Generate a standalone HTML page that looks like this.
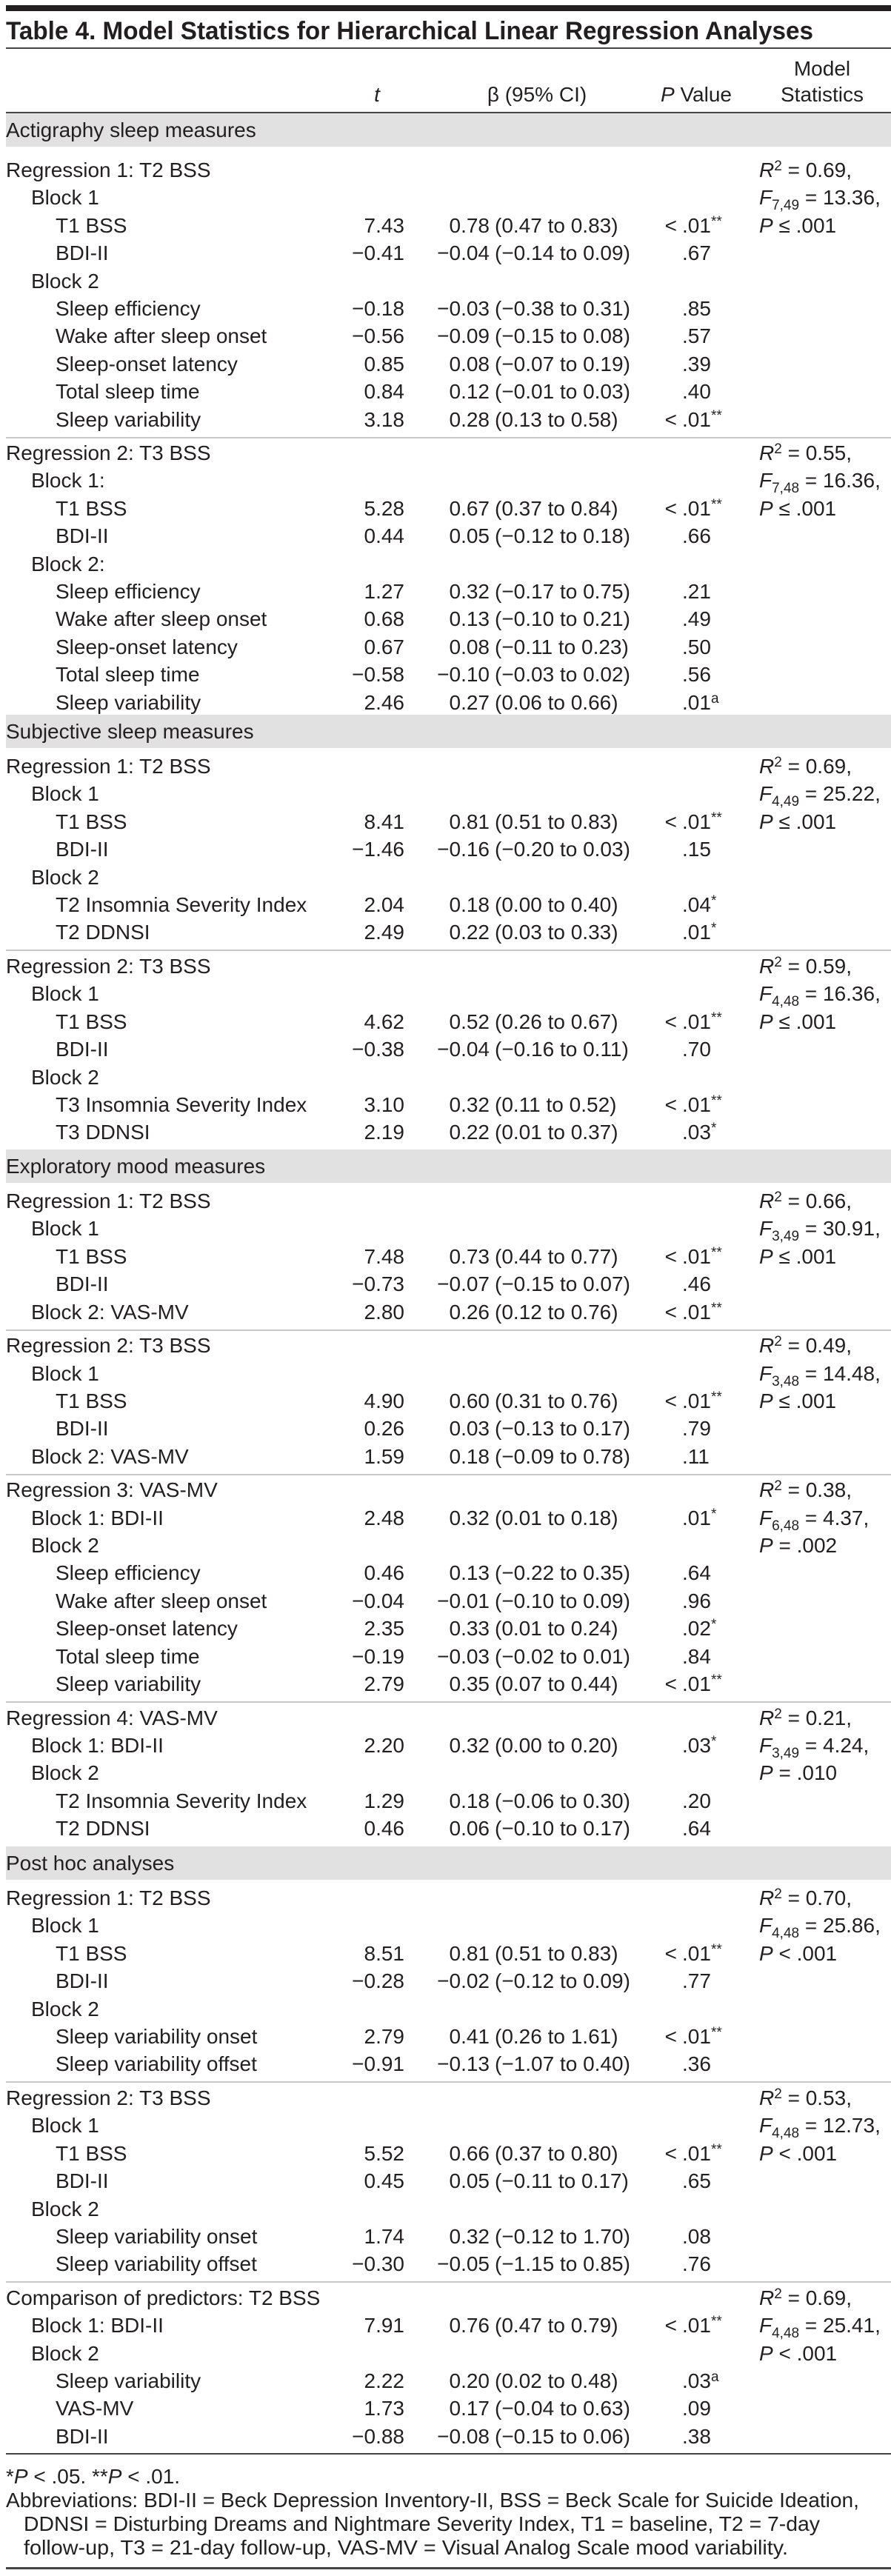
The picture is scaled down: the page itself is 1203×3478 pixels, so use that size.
<!DOCTYPE html>
<html><head><meta charset="utf-8">
<style>
html,body{margin:0;padding:0;background:#fff;}
svg{display:block;font-family:"Liberation Sans",Arial,sans-serif;}
</style></head>
<body>
<svg id="tbl" width="1203" height="3478" viewBox="0 0 1203 3478" xmlns="http://www.w3.org/2000/svg">
<rect x="8" y="7" width="1195" height="8" fill="#231f20"/>
<text x="8" y="53" font-size="34" font-weight="bold" fill="#231f20" textLength="1090" lengthAdjust="spacingAndGlyphs">Table 4. Model Statistics for Hierarchical Linear Regression Analyses</text>
<rect x="8" y="64" width="1195" height="2" fill="#444"/>
<text x="509" y="137" font-size="28" font-style="italic" text-anchor="middle" fill="#231f20">t</text>
<text x="725" y="137" font-size="28" text-anchor="middle" fill="#231f20">β (95% CI)</text>
<text x="940" y="137" font-size="28" text-anchor="middle" fill="#231f20"><tspan font-style="italic">P</tspan> Value</text>
<text x="1110" y="102" font-size="28" text-anchor="middle" fill="#231f20">Model</text>
<text x="1110" y="137" font-size="28" text-anchor="middle" fill="#231f20">Statistics</text>
<g id="body"></g>
</svg>
<script>
const NS = "http://www.w3.org/2000/svg";
const sectionNames = ["Actigraphy sleep measures","Subjective sleep measures","Exploratory mood measures","Post hoc analyses"];
const sectionStarts = [229, 1034, 1621, 2562];
const sectionGroups = [[0,1],[2,3],[4,5,6,7],[8,9,10]];
const groupTitles = ["Regression 1: T2 BSS","Regression 2: T3 BSS","Regression 1: T2 BSS","Regression 2: T3 BSS","Regression 1: T2 BSS","Regression 2: T3 BSS","Regression 3: VAS-MV","Regression 4: VAS-MV","Regression 1: T2 BSS","Regression 2: T3 BSS","Comparison of predictors: T2 BSS"];
const modelR2 = ["0.69","0.55","0.69","0.59","0.66","0.49","0.38","0.21","0.70","0.53","0.69"];
const modelDf = ["7,49","7,48","4,49","4,48","3,49","3,48","6,48","3,49","4,48","4,48","4,48"];
const modelF = ["13.36","16.36","25.22","16.36","30.91","14.48","4.37","4.24","25.86","12.73","25.41"];
const modelPop = ["≤","≤","≤","≤","≤","≤","=","=","<","<","<"];
const modelP = [".001",".001",".001",".001",".001",".001",".002",".010",".001",".001",".001"];
// rows: [label, indent, t, beta, ci, pOp, p, sup]
const groupRows = [
 [["Block 1",1],["T1 BSS",2,"7.43","0.78","(0.47 to 0.83)","<",".01","**"],["BDI-II",2,"−0.41","−0.04","(−0.14 to 0.09)","",".67",""],["Block 2",1],["Sleep efficiency",2,"−0.18","−0.03","(−0.38 to 0.31)","",".85",""],["Wake after sleep onset",2,"−0.56","−0.09","(−0.15 to 0.08)","",".57",""],["Sleep-onset latency",2,"0.85","0.08","(−0.07 to 0.19)","",".39",""],["Total sleep time",2,"0.84","0.12","(−0.01 to 0.03)","",".40",""],["Sleep variability",2,"3.18","0.28","(0.13 to 0.58)","<",".01","**"]],
 [["Block 1:",1],["T1 BSS",2,"5.28","0.67","(0.37 to 0.84)","<",".01","**"],["BDI-II",2,"0.44","0.05","(−0.12 to 0.18)","",".66",""],["Block 2:",1],["Sleep efficiency",2,"1.27","0.32","(−0.17 to 0.75)","",".21",""],["Wake after sleep onset",2,"0.68","0.13","(−0.10 to 0.21)","",".49",""],["Sleep-onset latency",2,"0.67","0.08","(−0.11 to 0.23)","",".50",""],["Total sleep time",2,"−0.58","−0.10","(−0.03 to 0.02)","",".56",""],["Sleep variability",2,"2.46","0.27","(0.06 to 0.66)","",".01","a"]],
 [["Block 1",1],["T1 BSS",2,"8.41","0.81","(0.51 to 0.83)","<",".01","**"],["BDI-II",2,"−1.46","−0.16","(−0.20 to 0.03)","",".15",""],["Block 2",1],["T2 Insomnia Severity Index",2,"2.04","0.18","(0.00 to 0.40)","",".04","*"],["T2 DDNSI",2,"2.49","0.22","(0.03 to 0.33)","",".01","*"]],
 [["Block 1",1],["T1 BSS",2,"4.62","0.52","(0.26 to 0.67)","<",".01","**"],["BDI-II",2,"−0.38","−0.04","(−0.16 to 0.11)","",".70",""],["Block 2",1],["T3 Insomnia Severity Index",2,"3.10","0.32","(0.11 to 0.52)","<",".01","**"],["T3 DDNSI",2,"2.19","0.22","(0.01 to 0.37)","",".03","*"]],
 [["Block 1",1],["T1 BSS",2,"7.48","0.73","(0.44 to 0.77)","<",".01","**"],["BDI-II",2,"−0.73","−0.07","(−0.15 to 0.07)","",".46",""],["Block 2: VAS-MV",1,"2.80","0.26","(0.12 to 0.76)","<",".01","**"]],
 [["Block 1",1],["T1 BSS",2,"4.90","0.60","(0.31 to 0.76)","<",".01","**"],["BDI-II",2,"0.26","0.03","(−0.13 to 0.17)","",".79",""],["Block 2: VAS-MV",1,"1.59","0.18","(−0.09 to 0.78)","",".11",""]],
 [["Block 1: BDI-II",1,"2.48","0.32","(0.01 to 0.18)","",".01","*"],["Block 2",1],["Sleep efficiency",2,"0.46","0.13","(−0.22 to 0.35)","",".64",""],["Wake after sleep onset",2,"−0.04","−0.01","(−0.10 to 0.09)","",".96",""],["Sleep-onset latency",2,"2.35","0.33","(0.01 to 0.24)","",".02","*"],["Total sleep time",2,"−0.19","−0.03","(−0.02 to 0.01)","",".84",""],["Sleep variability",2,"2.79","0.35","(0.07 to 0.44)","<",".01","**"]],
 [["Block 1: BDI-II",1,"2.20","0.32","(0.00 to 0.20)","",".03","*"],["Block 2",1],["T2 Insomnia Severity Index",2,"1.29","0.18","(−0.06 to 0.30)","",".20",""],["T2 DDNSI",2,"0.46","0.06","(−0.10 to 0.17)","",".64",""]],
 [["Block 1",1],["T1 BSS",2,"8.51","0.81","(0.51 to 0.83)","<",".01","**"],["BDI-II",2,"−0.28","−0.02","(−0.12 to 0.09)","",".77",""],["Block 2",1],["Sleep variability onset",2,"2.79","0.41","(0.26 to 1.61)","<",".01","**"],["Sleep variability offset",2,"−0.91","−0.13","(−1.07 to 0.40)","",".36",""]],
 [["Block 1",1],["T1 BSS",2,"5.52","0.66","(0.37 to 0.80)","<",".01","**"],["BDI-II",2,"0.45","0.05","(−0.11 to 0.17)","",".65",""],["Block 2",1],["Sleep variability onset",2,"1.74","0.32","(−0.12 to 1.70)","",".08",""],["Sleep variability offset",2,"−0.30","−0.05","(−1.15 to 0.85)","",".76",""]],
 [["Block 1: BDI-II",1,"7.91","0.76","(0.47 to 0.79)","<",".01","**"],["Block 2",1],["Sleep variability",2,"2.22","0.20","(0.02 to 0.48)","",".03","a"],["VAS-MV",2,"1.73","0.17","(−0.04 to 0.63)","",".09",""],["BDI-II",2,"−0.88","−0.08","(−0.15 to 0.06)","",".38",""]]
];

const PITCH = 37.4, GROUP_GAP = 45.5;
const indentX = [8, 42, 75];
const body = document.getElementById('body');

function txt(x, y, html, anchor, name) {
  const el = document.createElementNS(NS, 'text');
  el.setAttribute('x', x);
  el.setAttribute('y', y);
  el.setAttribute('font-size', '28');
  el.setAttribute('fill', '#231f20');
  if (anchor) el.setAttribute('text-anchor', anchor);
  el.innerHTML = html;
  
  
  body.appendChild(el);
  return el;
}
function rect(x, y, w, h, fill, name) {
  const el = document.createElementNS(NS, 'rect');
  el.setAttribute('x', x); el.setAttribute('y', y);
  el.setAttribute('width', w); el.setAttribute('height', h);
  el.setAttribute('fill', fill);
  
  
  body.appendChild(el);
  return el;
}
const SUP = (s) => s ? '<tspan font-size="19" dy="-9">' + s + '</tspan>' : '';

rect(8, 151, 1195, 2, '#444', 'header-rule');

sectionNames.forEach((sname, si) => {
  const start = sectionStarts[si];
  const bandTop = start - 24 - 45;
  rect(8, si === 0 ? 153 : bandTop, 1195, si === 0 ? 45 : 45, '#e1e1e1', 'section-band');
  txt(8, (si === 0 ? 153 : bandTop) + 32, sname, null, 'section-title');
  let y = start;
  sectionGroups[si].forEach((g, gi) => {
    if (gi > 0) {
      rect(8, Math.round(y - 21.5), 1195, 2, '#c8c8c8', 'group-rule');
    }
    const rows = [[groupTitles[g], 0]].concat(groupRows[g]);
    const ms = [
      '<tspan font-style="italic">R</tspan>' + SUP('2') + '<tspan dy="9"> = ' + modelR2[g] + ',</tspan>',
      '<tspan font-style="italic">F</tspan><tspan font-size="19" dy="7">' + modelDf[g] + '</tspan><tspan dy="-7"> = ' + modelF[g] + ',</tspan>',
      '<tspan font-style="italic">P</tspan> ' + modelPop[g] + ' ' + modelP[g]
    ];
    rows.forEach((r, ri) => {
      const base = Math.round(y + 10);
      txt(indentX[r[1]], base, r[0], null, 'row-label');
      if (r.length > 2) {
        txt(546, base, r[2], 'end', 't-value');
        txt(661, base, r[3], 'end', 'beta-value');
        txt(668, base, r[4], null, 'beta-ci');
        if (r[5]) txt(914, base, r[5], 'end', 'p-operator');
        txt(921, base, r[6] + SUP(r[7]), null, 'p-value');
      }
      if (ri < 3) txt(1025, base, ms[ri], null, 'model-statistic');
      y += PITCH;
    });
    y = y - PITCH + GROUP_GAP;
  });
});

rect(8, 3312, 1195, 2, '#444', 'footer-rule');
txt(8, 3353, '*<tspan font-style="italic">P</tspan> &lt; .05. **<tspan font-style="italic">P</tspan> &lt; .01.', null, 'footnote-significance');
const f1 = txt(8, 3385, 'Abbreviations: BDI-II = Beck Depression Inventory-II, BSS = Beck Scale for Suicide Ideation,', null, 'footnote-abbreviations');
f1.setAttribute('textLength', '1152'); f1.setAttribute('lengthAdjust', 'spacingAndGlyphs');
const f2 = txt(32, 3417, 'DDNSI = Disturbing Dreams and Nightmare Severity Index, T1 = baseline, T2 = 7-day', null, 'footnote-abbreviations');
f2.setAttribute('textLength', '1075'); f2.setAttribute('lengthAdjust', 'spacingAndGlyphs');
const f3 = txt(32, 3449, 'follow-up, T3 = 21-day follow-up, VAS-MV = Visual Analog Scale mood variability.', null, 'footnote-abbreviations');
f3.setAttribute('textLength', '1032'); f3.setAttribute('lengthAdjust', 'spacingAndGlyphs');
rect(8, 3466, 1195, 3, '#444', 'bottom-rule');
</script>
</body></html>
